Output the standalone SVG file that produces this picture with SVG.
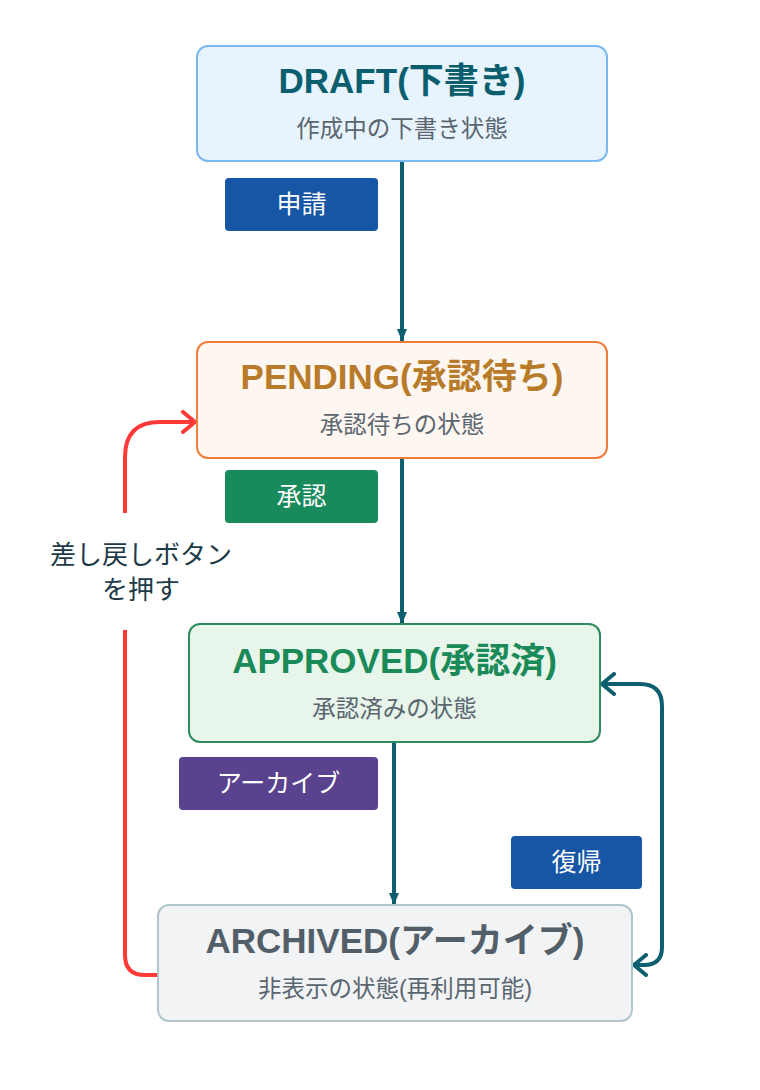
<svg xmlns="http://www.w3.org/2000/svg" width="760" height="1090" viewBox="0 0 760 1090">
<defs>
<style>
.t{font-family:"Liberation Sans","Noto Sans CJK JP",sans-serif;font-size:35px;font-weight:bold;text-anchor:middle}
.s{font-family:"Liberation Sans","Noto Sans CJK JP",sans-serif;font-size:23.5px;fill:#5a6670;text-anchor:middle}
.lb{font-family:"Liberation Sans","Noto Sans CJK JP",sans-serif;font-size:25px;fill:#ffffff;text-anchor:middle}
.el{font-family:"Liberation Sans","Noto Sans CJK JP",sans-serif;font-size:26px;fill:#1d3a48;text-anchor:middle}
.box{stroke-width:2}
.e{fill:none;stroke:#0d5e6e;stroke-width:4}
</style>
<marker id="tri" viewBox="0 0 12 10" refX="12" refY="5" markerWidth="12" markerHeight="10" markerUnits="userSpaceOnUse" orient="auto">
<path d="M0,0 L12,5 L0,10 Z" fill="#0d5e6e"/>
</marker>
<marker id="chT" viewBox="0 0 16 24" refX="14" refY="12" markerWidth="16" markerHeight="24" markerUnits="userSpaceOnUse" orient="auto">
<path d="M2,2 L14,12 L2,22" fill="none" stroke="#0d5e6e" stroke-width="4" stroke-linecap="round" stroke-linejoin="round"/>
</marker>
<marker id="chTs" viewBox="0 0 16 24" refX="14" refY="12" markerWidth="16" markerHeight="24" markerUnits="userSpaceOnUse" orient="auto-start-reverse">
<path d="M2,2 L14,12 L2,22" fill="none" stroke="#0d5e6e" stroke-width="4" stroke-linecap="round" stroke-linejoin="round"/>
</marker>
<marker id="chR" viewBox="0 0 16 24" refX="14" refY="12" markerWidth="16" markerHeight="24" markerUnits="userSpaceOnUse" orient="auto">
<path d="M2,2 L14,12 L2,22" fill="none" stroke="#ff3838" stroke-width="4" stroke-linecap="round" stroke-linejoin="round"/>
</marker>
</defs>
<rect width="760" height="1090" fill="#ffffff"/>

<g id="connectors">
<line class="e" x1="402" y1="161" x2="402" y2="341" marker-end="url(#tri)" stroke-width="3.5"/>
<line class="e" x1="402" y1="458" x2="402" y2="624" marker-end="url(#tri)" stroke-width="3.5"/>
<line class="e" x1="394" y1="742" x2="394" y2="905" marker-end="url(#tri)" stroke-width="3.5"/>
<path class="e" d="M634,965 H644 Q662,965 662,947 V706 Q662,684 640,684 H602" marker-start="url(#chTs)" marker-end="url(#chT)"/>
<path fill="none" stroke="#ff3838" stroke-width="4" d="M158,975 H145 Q125,975 125,955 V630"/>
<path fill="none" stroke="#ff3838" stroke-width="4" d="M125,513 V457 Q125,422 160,422 H195" marker-end="url(#chR)"/>
</g>

<g id="label-shinsei">
<rect x="225" y="178" width="153" height="53" rx="4" fill="#1656a4"/>
<text class="lb" x="301.5" y="213">申請</text>
</g>
<g id="label-shounin">
<rect x="225" y="470" width="153" height="53" rx="4" fill="#198a5b"/>
<text class="lb" x="301.5" y="505">承認</text>
</g>
<g id="label-archive">
<rect x="179" y="757" width="199" height="53" rx="4" fill="#5a438e"/>
<text class="lb" x="278.5" y="792">アーカイブ</text>
</g>
<g id="label-fukki">
<rect x="511" y="836" width="131" height="53" rx="4" fill="#1656a4"/>
<text class="lb" x="576.5" y="871">復帰</text>
</g>
<g id="label-sashimodoshi">
<text class="el" x="141" y="564">差し戻しボタン</text>
<text class="el" x="141" y="599">を押す</text>
</g>

<g id="node-draft">
<rect class="box" x="197" y="46" width="410" height="115" rx="11" fill="#e7f3fd" stroke="#7ab8f0"/>
<text class="t" x="402" y="93" fill="#0b5e6e">DRAFT(下書き)</text>
<text class="s" x="402" y="137">作成中の下書き状態</text>
</g>
<g id="node-pending">
<rect class="box" x="197" y="342" width="410" height="116" rx="11" fill="#fef6f0" stroke="#f07c3c"/>
<text class="t" x="402" y="389" fill="#b87b2a">PENDING(承認待ち)</text>
<text class="s" x="402" y="433">承認待ちの状態</text>
</g>
<g id="node-approved">
<rect class="box" x="189" y="624" width="411" height="118" rx="11" fill="#e7f5ea" stroke="#2e8b5e"/>
<text class="t" x="394.5" y="673" fill="#1a8a58">APPROVED(承認済)</text>
<text class="s" x="394.5" y="717">承認済みの状態</text>
</g>
<g id="node-archived">
<rect class="box" x="158" y="905" width="474" height="116" rx="11" fill="#f1f3f5" stroke="#b0c6cc"/>
<text class="t" x="395" y="953" fill="#525e68">ARCHIVED(アーカイブ)</text>
<text class="s" x="395" y="997">非表示の状態(再利用可能)</text>
</g>
</svg>
